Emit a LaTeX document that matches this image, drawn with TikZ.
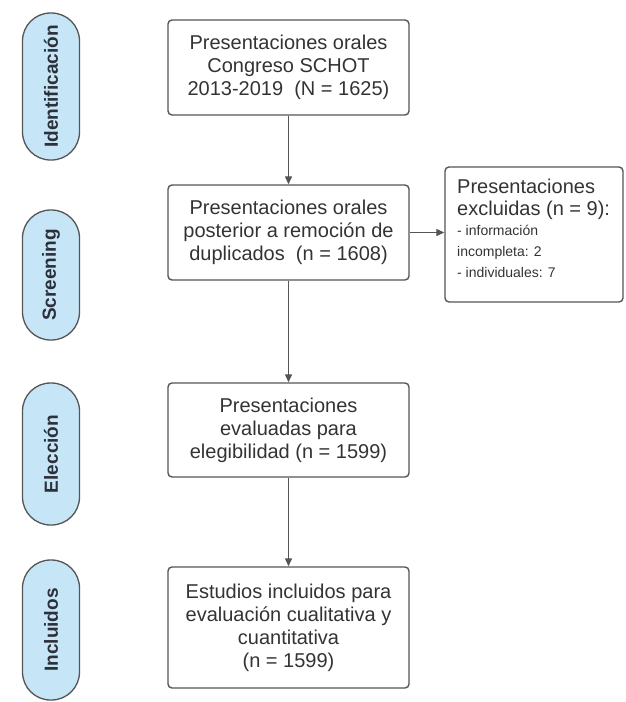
\documentclass[tikz,border=0pt]{standalone}
\usepackage{fontspec}
\setmainfont{Liberation Sans}
\usetikzlibrary{arrows.meta}
\definecolor{pillfill}{HTML}{C6E6F8}
\definecolor{edge}{HTML}{555555}
\definecolor{txt}{HTML}{333333}
\definecolor{pilltxt}{HTML}{2B303A}
\begin{document}
\begin{tikzpicture}[x=1pt,y=-1pt,
  pill/.style={draw=edge, line width=1.3pt, fill=pillfill, rectangle, rounded corners=28pt,
    rotate=90, minimum height=57pt, inner sep=0pt, text=pilltxt,
    font=\fontsize{19}{22}\selectfont\bfseries},
  box/.style={draw=edge, line width=1.4pt, rectangle, rounded corners=4pt,
    minimum width=241pt, inner sep=0pt, align=center, text=txt,
    font=\fontsize{20}{23}\selectfont},
  arr/.style={draw=edge, line width=1.3pt, -{Triangle[width=7pt,length=8pt]}}
]
\useasboundingbox (0,0) rectangle (625,702);
\node[pill, minimum width=147pt] (p1) at (51,86.5) {Identificación};
\node[pill, minimum width=130pt] (p2) at (51,275) {Screening};
\node[pill, minimum width=142pt] (p3) at (51,454) {Elección};
\node[pill, minimum width=140pt] (p4) at (51,630) {Incluidos};

\node[box, minimum height=95pt] (b1) at (288.5,67.5) {Presentaciones orales\\Congreso SCHOT\\2013-2019\ \ (N = 1625)};
\node[box, minimum height=95pt] (b2) at (288.5,232.5) {Presentaciones orales\\posterior a remoción de\\duplicados\ \ (n = 1608)};
\node[box, minimum height=94pt] (b3) at (288.5,430) {Presentaciones\\evaluadas para\\elegibilidad (n = 1599)};
\node[box, minimum height=121pt] (b4) at (288.5,627.5) {Estudios incluidos para\\evaluación cualitativa y\\cuantitativa\\(n = 1599)};

\node[draw=edge, line width=1.4pt, rectangle, rounded corners=4pt, minimum width=178pt,
  minimum height=135pt, inner sep=0pt, text=txt] (ex) at (534,234.5) {};
\node[anchor=north west, inner sep=0pt, align=left, text=txt, font=\fontsize{20}{22}\selectfont]
  (ext) at (457,179) {Presentaciones\\excluidas (n = 9):\\[-2pt]
  {\fontsize{14}{21.5}\selectfont - información}\\[-1pt]
  {\fontsize{14}{21.5}\selectfont incompleta: 2}\\[-1pt]
  {\fontsize{14}{21.5}\selectfont - individuales: 7}};

\draw[arr] (b1) -- (b2);
\draw[arr] (b2) -- (b3);
\draw[arr] (b3) -- (b4);
\draw[arr] (b2.east) -- (b2.east -| ex.west);
\end{tikzpicture}
\end{document}
